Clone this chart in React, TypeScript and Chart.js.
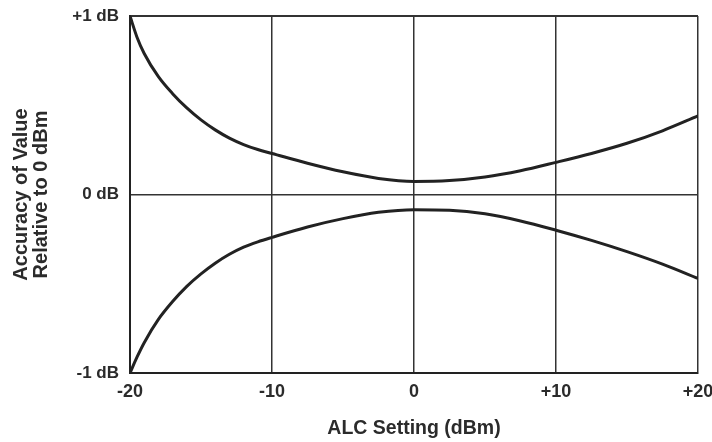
import React, { useEffect, useRef } from "react";
import { Chart, registerables } from "chart.js";

Chart.register(...registerables);

const alcSetting = [-20, -19.5, -19, -18, -17, -16, -15, -14, -13, -12, -11, -10, -7.5, -5, -2.5, 0, 2.5, 5, 7.5, 10, 12.5, 15, 17.5, 20];
const upperLimit = [1.0, 0.88, 0.79, 0.66, 0.565, 0.485, 0.418, 0.362, 0.316, 0.28, 0.252, 0.23, 0.175, 0.127, 0.09, 0.073, 0.078, 0.098, 0.133, 0.18, 0.23, 0.287, 0.357, 0.44];
const lowerLimit = [-1.0, -0.91, -0.83, -0.7, -0.6, -0.515, -0.445, -0.385, -0.335, -0.295, -0.265, -0.24, -0.182, -0.135, -0.1, -0.085, -0.088, -0.108, -0.148, -0.2, -0.257, -0.32, -0.39, -0.47];
const yTickValues = [-1, 0, 1];
const yTickLabels = ["-1 dB", "0 dB", "+1 dB"];
const xTickValues = [-20, -10, 0, 10, 20];
const xTickLabels = ["-20", "-10", "0", "+10", "+20"];

const FONT = "'Liberation Sans', Arial, Helvetica, sans-serif";
const INK = "#2b2b2b";

export default function App() {
  const ref = useRef<HTMLCanvasElement | null>(null);
  useEffect(() => {
    document.body.style.margin = "0";
    const canvas = ref.current;
    if (!canvas) return;
    const toPts = (ys: number[]) => alcSetting.map((x, i) => ({ x, y: ys[i] }));
    const chart = new Chart(canvas, {
      type: "line",
      data: {
        datasets: [
          {
            data: toPts(upperLimit),
            borderColor: "#222",
            borderWidth: 3,
            pointRadius: 0,
            cubicInterpolationMode: "monotone",
            fill: false,
          },
          {
            data: toPts(lowerLimit),
            borderColor: "#222",
            borderWidth: 3,
            pointRadius: 0,
            cubicInterpolationMode: "monotone",
            fill: false,
          },
        ],
      },
      options: {
        responsive: false,
        animation: false,
        layout: { padding: { top: 16, right: 14, bottom: 0, left: 0 } },
        plugins: { legend: { display: false }, tooltip: { enabled: false } },
        scales: {
          x: {
            type: "linear",
            min: -20,
            max: 20,
            afterBuildTicks: (s: any) => {
              s.ticks = xTickValues.map((v) => ({ value: v }));
            },
            afterFit: (s: any) => {
              s.height = 69;
              s.paddingLeft = 0;
              s.paddingRight = 0;
            },
            ticks: {
              padding: 8,
              color: INK,
              font: { family: FONT, size: 18, weight: "bold" },
              callback: (v: any) => {
                const i = xTickValues.indexOf(Number(v));
                return i >= 0 ? xTickLabels[i] : "";
              },
              maxRotation: 0,
            },
            grid: { color: "#333", lineWidth: 1.5, drawTicks: false },
            border: { display: true, color: "#222", width: 2 },
            title: {
              display: true,
              text: "ALC Setting (dBm)",
              color: INK,
              font: { family: FONT, size: 19.5, weight: "bold", lineHeight: 1.2 },
              padding: { top: 0, bottom: 2 },
            },
          },
          y: {
            type: "linear",
            min: -1,
            max: 1,
            afterBuildTicks: (s: any) => {
              s.ticks = yTickValues.map((v) => ({ value: v }));
            },
            afterFit: (s: any) => {
              s.width = 130;
              s.paddingTop = 0;
              s.paddingBottom = 0;
            },
            ticks: {
              padding: 11,
              color: INK,
              font: { family: FONT, size: 17, weight: "bold" },
              callback: (v: any) => {
                const i = yTickValues.indexOf(Number(v));
                return i >= 0 ? yTickLabels[i] : "";
              },
            },
            grid: {
              color: "#333",
              lineWidth: (ctx: any) => (ctx.tick && ctx.tick.value === 0 ? 1.5 : 2),
              drawTicks: false,
            },
            border: { display: true, color: "#222", width: 2 },
            title: {
              display: true,
              text: ["Accuracy of Value", "Relative to 0 dBm"],
              color: INK,
              font: { family: FONT, size: 20, weight: "bold", lineHeight: 1.0 },
              padding: { top: 11.5, bottom: 0 },
            },
          },
        },
      },
    });
    return () => chart.destroy();
  }, []);
  return <canvas ref={ref} width={712} height={442} style={{ display: "block" }} />;
}
